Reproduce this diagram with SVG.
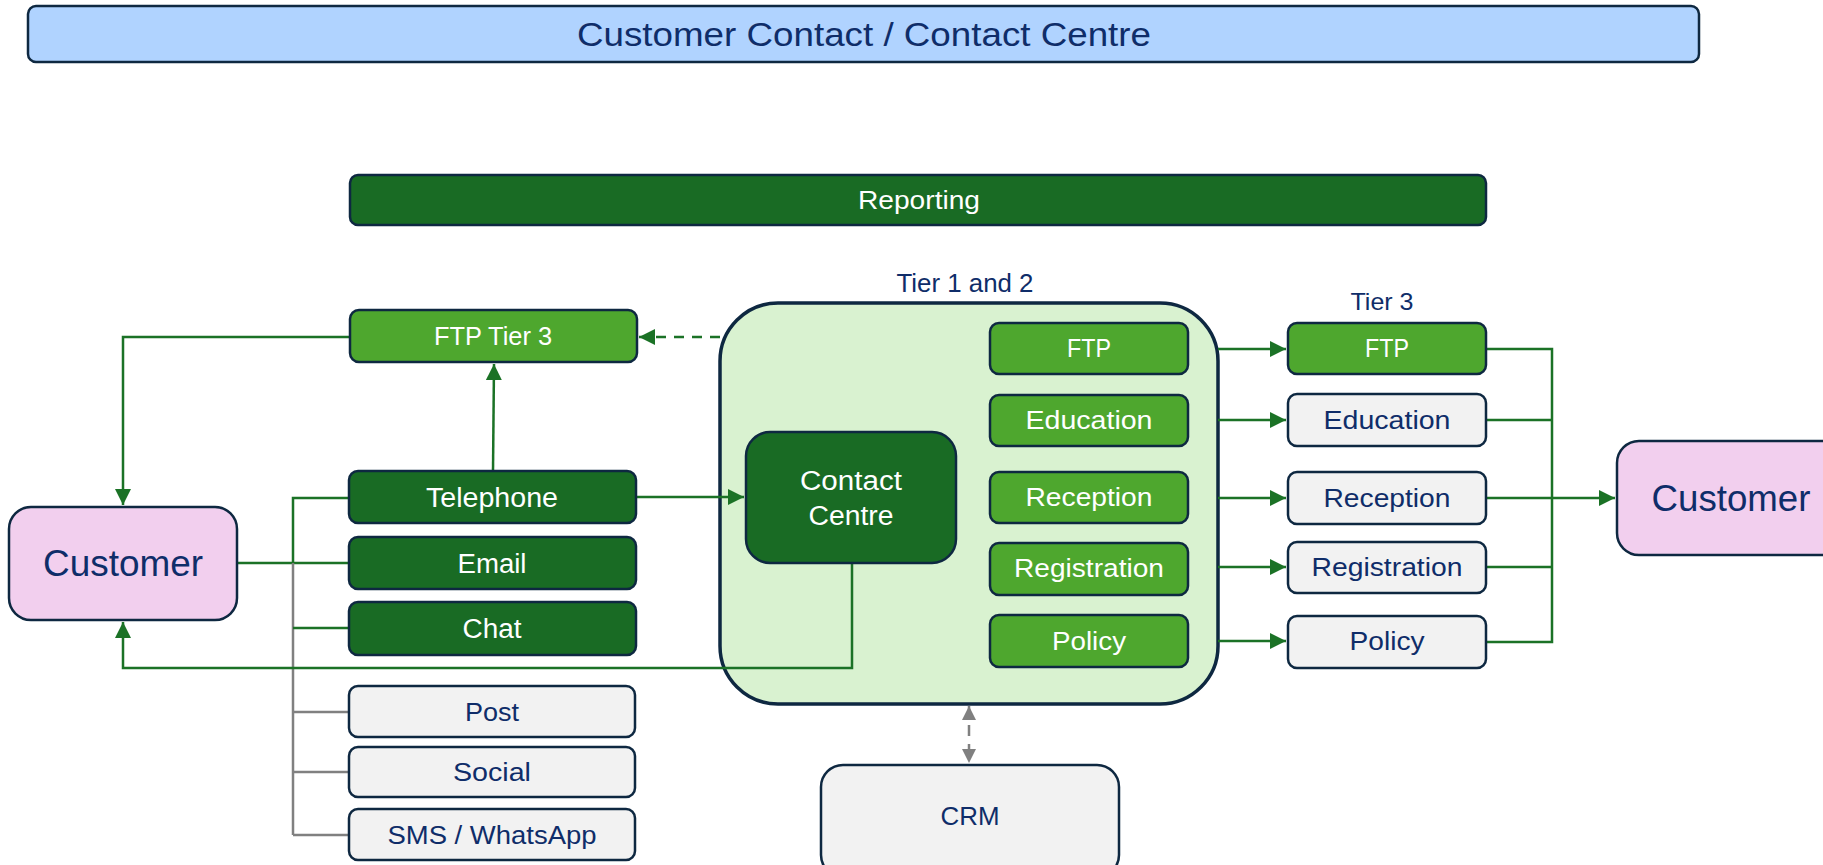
<svg xmlns="http://www.w3.org/2000/svg" width="1823" height="865" viewBox="0 0 1823 865">
<defs>
<style>
.bx{stroke:#0e2841;stroke-width:2.5}
.dk{fill:#196b24}
.lg{fill:#4ea72e}
.gy{fill:#f2f2f2}
.pk{fill:#f2cfee}
.t{font-family:"Liberation Sans",Arial,sans-serif;text-anchor:middle}
.w{fill:#ffffff}
.n{fill:#0f2d69}
.g{fill:none;stroke:#1b7226;stroke-width:2.5}
.gr{fill:none;stroke:#808080;stroke-width:2.5}
</style>
<marker id="ag" markerUnits="userSpaceOnUse" markerWidth="16" markerHeight="16" viewBox="0 0 14 14" refX="14" refY="7" orient="auto"><path d="M0,0 L14,7 L0,14 z" fill="#1b7226"/></marker>
<marker id="agy" markerUnits="userSpaceOnUse" markerWidth="14" markerHeight="14" viewBox="0 0 14 14" refX="14" refY="7" orient="auto-start-reverse"><path d="M0,0 L14,7 L0,14 z" fill="#808080"/></marker>
</defs>
<rect width="1823" height="865" fill="#ffffff"/>

<g id="title"><rect x="28" y="6" width="1671" height="56" rx="8" fill="#b0d3ff" class="bx"/><text class="t n" x="864" y="46" font-size="34" textLength="574" lengthAdjust="spacingAndGlyphs">Customer Contact / Contact Centre</text></g>
<g id="reporting"><rect x="350" y="175" width="1136" height="50" rx="8" class="bx dk"/><text class="t w" x="919" y="209" font-size="26" textLength="122" lengthAdjust="spacingAndGlyphs">Reporting</text></g>

<g id="tier12"><rect x="720" y="303" width="498" height="401" rx="58" fill="#d9f2d0" stroke="#0e2841" stroke-width="3.5"/><text class="t n" x="965" y="292" font-size="25" textLength="137" lengthAdjust="spacingAndGlyphs">Tier 1 and 2</text></g>

<g id="connectors">
<path class="g" d="M350,337 H123 V505" marker-end="url(#ag)"/>
<path class="g" d="M493,471 L494,364" marker-end="url(#ag)"/>
<path class="g" d="M720,337 H639" stroke-dasharray="10,8" marker-end="url(#ag)"/>
<path class="g" d="M636,497 H744" marker-end="url(#ag)"/>
<path class="g" d="M237,563 H349"/>
<path class="gr" d="M293,563 V835 M293,712 H349 M293,772 H349 M293,835 H349"/>
<path class="g" d="M349,498 H293 V563"/>
<path class="g" d="M293,628 H349"/>
<path class="g" d="M852,563 V668 H123 V622" marker-end="url(#ag)"/>
<path class="g" d="M1218,349 H1286" marker-end="url(#ag)"/>
<path class="g" d="M1218,420 H1286" marker-end="url(#ag)"/>
<path class="g" d="M1218,498 H1286" marker-end="url(#ag)"/>
<path class="g" d="M1218,567 H1286" marker-end="url(#ag)"/>
<path class="g" d="M1218,641 H1286" marker-end="url(#ag)"/>
<path class="g" d="M1486,349 H1552 V642 H1486 M1486,420 H1552 M1486,498 H1552 M1486,567 H1552"/>
<path class="g" d="M1552,498 H1615" marker-end="url(#ag)"/>
<path class="gr" d="M969,706 V763" stroke-dasharray="11,8" marker-start="url(#agy)" marker-end="url(#agy)"/>
</g>

<g id="ftp-tier3"><rect x="350" y="310" width="287" height="52" rx="9" class="bx lg"/><text class="t w" x="493" y="345" font-size="26" textLength="118" lengthAdjust="spacingAndGlyphs">FTP Tier 3</text></g>
<g id="telephone"><rect x="349" y="471" width="287" height="52" rx="9" class="bx dk"/><text class="t w" x="492" y="507" font-size="27" textLength="132" lengthAdjust="spacingAndGlyphs">Telephone</text></g>
<g id="email"><rect x="349" y="537" width="287" height="52" rx="9" class="bx dk"/><text class="t w" x="492" y="573" font-size="27" textLength="69" lengthAdjust="spacingAndGlyphs">Email</text></g>
<g id="chat"><rect x="349" y="602" width="287" height="53" rx="9" class="bx dk"/><text class="t w" x="492" y="638" font-size="27" textLength="59" lengthAdjust="spacingAndGlyphs">Chat</text></g>
<g id="post"><rect x="349" y="686" width="286" height="51" rx="9" class="bx gy"/><text class="t n" x="492" y="721" font-size="26" textLength="54" lengthAdjust="spacingAndGlyphs">Post</text></g>
<g id="social"><rect x="349" y="747" width="286" height="50" rx="9" class="bx gy"/><text class="t n" x="492" y="781" font-size="26" textLength="78" lengthAdjust="spacingAndGlyphs">Social</text></g>
<g id="sms"><rect x="349" y="809" width="286" height="51" rx="9" class="bx gy"/><text class="t n" x="492" y="844" font-size="26" textLength="209" lengthAdjust="spacingAndGlyphs">SMS / WhatsApp</text></g>

<g id="customer-left"><rect x="9" y="507" width="228" height="113" rx="22" class="bx pk"/><text class="t n" x="123" y="576" font-size="37" textLength="160" lengthAdjust="spacingAndGlyphs">Customer</text></g>
<g id="customer-right"><rect x="1617" y="441" width="228" height="114" rx="22" class="bx pk"/><text class="t n" x="1731" y="511" font-size="37" textLength="159" lengthAdjust="spacingAndGlyphs">Customer</text></g>

<g id="contact-centre"><rect x="746" y="432" width="210" height="131" rx="24" class="bx dk"/><text class="t w" x="851" y="490" font-size="27" textLength="102" lengthAdjust="spacingAndGlyphs">Contact</text><text class="t w" x="851" y="525" font-size="27" textLength="85" lengthAdjust="spacingAndGlyphs">Centre</text></g>

<g id="t12-ftp"><rect x="990" y="323" width="198" height="51" rx="9" class="bx lg"/><text class="t w" x="1089" y="357" font-size="25" textLength="44" lengthAdjust="spacingAndGlyphs">FTP</text></g>
<g id="t12-education"><rect x="990" y="395" width="198" height="51" rx="9" class="bx lg"/><text class="t w" x="1089" y="429" font-size="25" textLength="127" lengthAdjust="spacingAndGlyphs">Education</text></g>
<g id="t12-reception"><rect x="990" y="472" width="198" height="51" rx="9" class="bx lg"/><text class="t w" x="1089" y="506" font-size="25" textLength="127" lengthAdjust="spacingAndGlyphs">Reception</text></g>
<g id="t12-registration"><rect x="990" y="543" width="198" height="52" rx="9" class="bx lg"/><text class="t w" x="1089" y="577" font-size="25" textLength="150" lengthAdjust="spacingAndGlyphs">Registration</text></g>
<g id="t12-policy"><rect x="990" y="615" width="198" height="52" rx="9" class="bx lg"/><text class="t w" x="1089" y="650" font-size="25" textLength="74" lengthAdjust="spacingAndGlyphs">Policy</text></g>

<g id="tier3-label"><text class="t n" x="1382" y="310" font-size="24" textLength="63" lengthAdjust="spacingAndGlyphs">Tier 3</text></g>
<g id="t3-ftp"><rect x="1288" y="323" width="198" height="51" rx="9" class="bx lg"/><text class="t w" x="1387" y="357" font-size="25" textLength="44" lengthAdjust="spacingAndGlyphs">FTP</text></g>
<g id="t3-education"><rect x="1288" y="394" width="198" height="52" rx="9" class="bx gy"/><text class="t n" x="1387" y="429" font-size="25" textLength="127" lengthAdjust="spacingAndGlyphs">Education</text></g>
<g id="t3-reception"><rect x="1288" y="472" width="198" height="52" rx="9" class="bx gy"/><text class="t n" x="1387" y="507" font-size="25" textLength="127" lengthAdjust="spacingAndGlyphs">Reception</text></g>
<g id="t3-registration"><rect x="1288" y="542" width="198" height="51" rx="9" class="bx gy"/><text class="t n" x="1387" y="576" font-size="25" textLength="151" lengthAdjust="spacingAndGlyphs">Registration</text></g>
<g id="t3-policy"><rect x="1288" y="616" width="198" height="52" rx="9" class="bx gy"/><text class="t n" x="1387" y="650" font-size="25" textLength="75" lengthAdjust="spacingAndGlyphs">Policy</text></g>

<g id="crm"><rect x="821" y="765" width="298" height="112" rx="22" class="bx gy"/><text class="t n" x="970" y="825" font-size="25" textLength="59" lengthAdjust="spacingAndGlyphs">CRM</text></g>
</svg>
